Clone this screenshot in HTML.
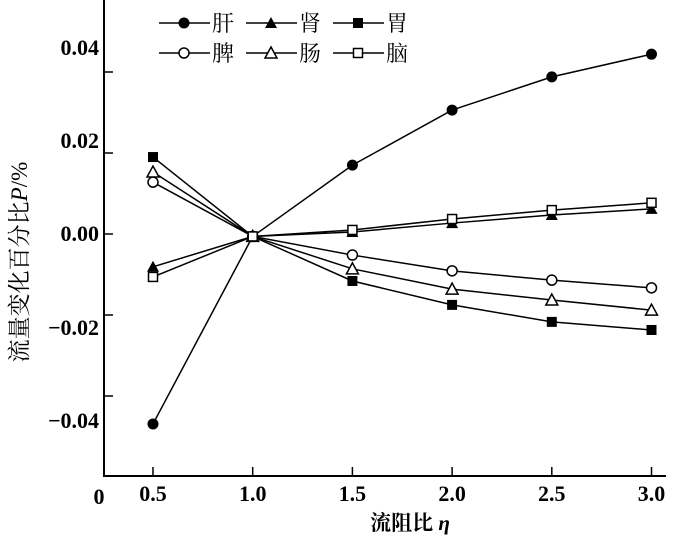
<!DOCTYPE html>
<html><head><meta charset="utf-8"><style>
body{margin:0;background:#fff}
svg text{font-family:"Liberation Serif","Noto Serif CJK SC",serif;fill:#000}
</style></head><body>
<svg width="700" height="541" viewBox="0 0 700 541">
<g id="axes">
<line x1="104" y1="0" x2="104" y2="476" stroke="#000" stroke-width="2"/>
<line x1="103" y1="476" x2="666" y2="476" stroke="#000" stroke-width="2"/>
</g>
<g id="ticks"></g>
<g id="series"></g>
<g id="legend"></g>
<text x="99" y="504" font-size="22" font-weight="bold" text-anchor="middle">0</text>
<text x="410" y="530" font-size="21" font-weight="bold" text-anchor="middle">流阻比 <tspan font-style="italic">η</tspan></text>
<text transform="translate(27,262) rotate(-90)" font-size="23" text-anchor="middle">流量变化百分比<tspan font-style="italic">P</tspan>/%</text>
</svg>
<script>
const xCats=[0.5,1.0,1.5,2.0,2.5,3.0];
const xTickLabels=["0.5","1.0","1.5","2.0","2.5","3.0"];
const yTicks=[0.04,0.02,0,-0.02,-0.04];
const yTickLabels=["0.04","0.02","0.00","\u22120.02","\u22120.04"];
const seriesNames=["肝","肾","胃","脾","肠","脑"];
const gan=[-0.0469,-0.0006,0.017,0.0306,0.0388,0.0444];
const shen=[-0.0081,-0.0006,0.0005,0.0027,0.0047,0.0062];
const wei=[0.019,-0.0006,-0.0116,-0.0175,-0.0217,-0.0237];
const pi=[0.0128,-0.0006,-0.0052,-0.0091,-0.0114,-0.0133];
const chang=[0.0153,-0.0006,-0.0086,-0.0136,-0.0163,-0.0188];
const nao=[-0.0106,-0.0006,0.001,0.0037,0.0059,0.0077];
const NS="http://www.w3.org/2000/svg";
function xS(v){return 153+(v-0.5)*199.4;}
function yS(v){return 234-v*4050;}
function mk(t,a,p){const e=document.createElementNS(NS,t);for(const k in a)e.setAttribute(k,a[k]);p.appendChild(e);return e;}
const tg=document.getElementById('ticks');
xCats.forEach((c,i)=>{
 const t=mk('line',{x1:xS(c),y1:476,x2:xS(c),y2:467,stroke:'#000','stroke-width':1.5},tg);
 
 
 const l=mk('text',{x:xS(c),y:501,'font-size':22,'font-weight':'bold','text-anchor':'middle'},tg);
 l.textContent=xTickLabels[i];
 
 
});
yTicks.forEach((v,i)=>{
 const t=mk('line',{x1:104,y1:yS(v),x2:113,y2:yS(v),stroke:'#000','stroke-width':1.5},tg);
 
 
 const ly=[55,148,241,335,428][i];
 const l=mk('text',{x:99,y:ly,'font-size':22,'font-weight':'bold','text-anchor':'end'},tg);
 l.textContent=yTickLabels[i];
 
 
});
function marker(type,x,y,g){
 let e;
 if(type==='fc')e=mk('circle',{cx:x,cy:y,r:5.5,fill:'#000'},g);
 else if(type==='oc')e=mk('circle',{cx:x,cy:y,r:5,fill:'#fff',stroke:'#000','stroke-width':1.5},g);
 else if(type==='ft')e=mk('polygon',{points:`${x},${y-6} ${x-6},${y+5} ${x+6},${y+5}`,fill:'#000'},g);
 else if(type==='ot')e=mk('polygon',{points:`${x},${y-6} ${x-6},${y+5} ${x+6},${y+5}`,fill:'#fff',stroke:'#000','stroke-width':1.5},g);
 else if(type==='fs')e=mk('rect',{x:x-5,y:y-5,width:10,height:10,fill:'#000'},g);
 else e=mk('rect',{x:x-4.5,y:y-4.5,width:9,height:9,fill:'#fff',stroke:'#000','stroke-width':1.5},g);
 return e;
}
const sg=document.getElementById('series');
const data=[gan,shen,wei,pi,chang,nao];
const mtypes=['fc','ft','fs','oc','ot','os'];
const snames=['gan-liver','shen-kidney','wei-stomach','pi-spleen','chang-intestine','nao-brain'];
data.forEach((arr,si)=>{
 const g=mk('g',{},sg);
 
 
 const pl=mk('polyline',{points:arr.map((v,i)=>xS(xCats[i])+','+yS(v)).join(' '),fill:'none',stroke:'#000','stroke-width':1.5},g);
 
 
 arr.forEach((v,i)=>{
  const m=marker(mtypes[si],xS(xCats[i]),yS(v),g);
  
  
 });
});
const lg=document.getElementById('legend');
const lx=[159,246,333],ly=[23,53];
seriesNames.forEach((n,i)=>{
 const x=lx[i%3],y=ly[Math.floor(i/3)];
 const g=mk('g',{},lg);
 
 
 mk('line',{x1:x,y1:y,x2:x+51,y2:y,stroke:'#000','stroke-width':1.5},g);
 marker(mtypes[i],x+25,y,g);
 const t=mk('text',{x:x+53,y:y+8,'font-size':22},g);
 t.textContent=n;
});
</script>
</body></html>
